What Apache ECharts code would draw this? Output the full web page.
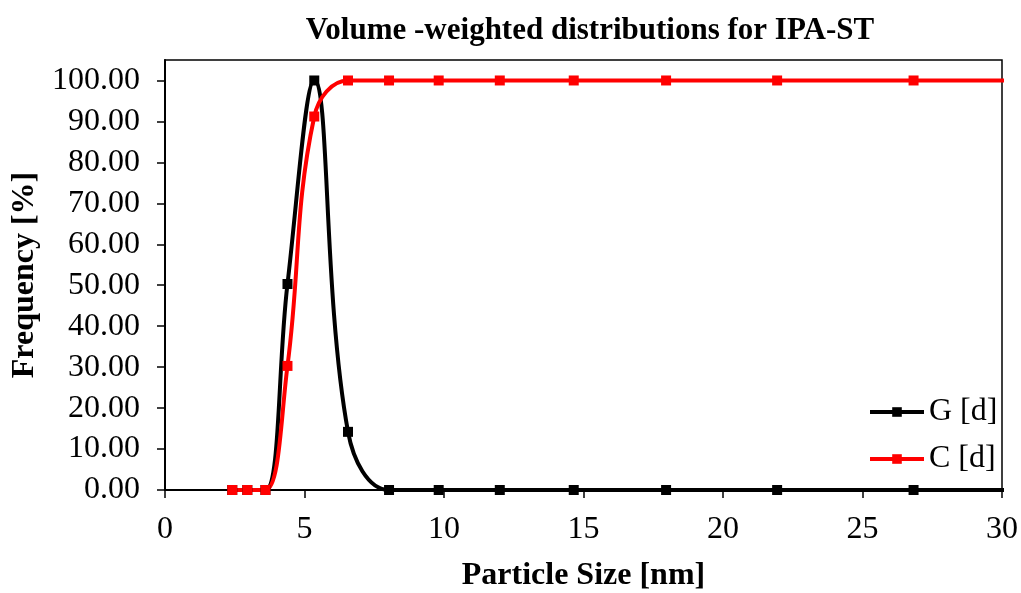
<!DOCTYPE html>
<html>
<head>
<meta charset="utf-8">
<script src="https://cdn.jsdelivr.net/npm/echarts@6/dist/echarts.min.js"></script>
<style>html,body{margin:0;padding:0;background:#fff}#c{width:1021px;height:593px}</style>
</head>
<body>
<div id="c"></div>
<script>
const sizes = [2.41, 2.95, 3.6, 4.39, 5.35, 6.56, 8.03, 9.81, 12.0, 14.65, 17.96, 21.94, 26.83, 32.8];
const gValues = [0, 0, 0, 50.3, 100, 14.2, 0, 0, 0, 0, 0, 0, 0, 0];
const cValues = [0, 0, 0, 30.3, 91.2, 100, 100, 100, 100, 100, 100, 100, 100, 100];
const yTicks = [0, 10, 20, 30, 40, 50, 60, 70, 80, 90, 100];
const seriesNames = ['G [d]', 'C [d]'];
const titleText = 'Volume -weighted distributions for IPA-ST';
const xName = 'Particle Size [nm]';
const yName = 'Frequency [%]';

const font = 'Liberation Serif, Times New Roman, serif';
const pair = (xs, ys) => xs.map((x, i) => [x, ys[i]]);

const chart = echarts.init(document.getElementById('c'), null, {renderer: 'canvas'});
chart.setOption({
  animation: false,
  backgroundColor: '#fff',
  title: {
    text: titleText, left: 585, top: 10, textAlign: 'center',
    textStyle: {fontFamily: font, fontWeight: 'bold', fontSize: 31, color: '#000'}
  },
  grid: {left: 165, right: 19, top: 60, bottom: 103, show: true, borderColor: '#000', borderWidth: 1.5,
    containLabel: false, outerBoundsMode: 'none'},
  legend: {
    orient: 'vertical', left: 863, top: 390, itemWidth: 54, itemHeight: 12, itemGap: 13,
    data: seriesNames,
    lineStyle: {width: 4},
    textStyle: {fontFamily: font, fontSize: 32, color: '#000', lineHeight: 34}
  },
  xAxis: {
    type: 'value', min: 0, max: 30, interval: 5,
    name: xName, nameLocation: 'middle', nameGap: 70,
    nameTextStyle: {fontFamily: font, fontWeight: 'bold', fontSize: 32, color: '#000'},
    axisLine: {onZero: false, lineStyle: {color: '#000', width: 2}},
    axisTick: {show: true, inside: false, length: 8, lineStyle: {color: '#000', width: 1.5}},
    axisLabel: {margin: 24, fontFamily: font, fontSize: 32, color: '#000'},
    splitLine: {show: false}
  },
  yAxis: {
    type: 'value', min: 0, max: 105,
    name: yName, nameLocation: 'middle', nameGap: 118,
    nameTextStyle: {fontFamily: font, fontWeight: 'bold', fontSize: 32, color: '#000'},
    axisLine: {show: true, lineStyle: {color: '#000', width: 2}},
    axisTick: {show: true, length: 8, customValues: yTicks, lineStyle: {color: '#000', width: 1.5}},
    axisLabel: {margin: 25, customValues: yTicks, fontFamily: font, fontSize: 32, color: '#000',
      formatter: v => Number(v).toFixed(2)},
    splitLine: {show: false}
  },
  series: [
    {
      name: seriesNames[0], type: 'line', data: pair(sizes, gValues), smooth: 0.4,
      symbol: 'rect', symbolSize: 10, showAllSymbol: true,
      lineStyle: {color: '#000', width: 4}, itemStyle: {color: '#000'}, clip: true
    },
    {
      name: seriesNames[1], type: 'line', data: pair(sizes, cValues), smooth: 0.4,
      symbol: 'rect', symbolSize: 10, showAllSymbol: true,
      lineStyle: {color: '#ff0000', width: 4}, itemStyle: {color: '#ff0000'}, clip: true
    }
  ]
});
</script>
</body>
</html>
